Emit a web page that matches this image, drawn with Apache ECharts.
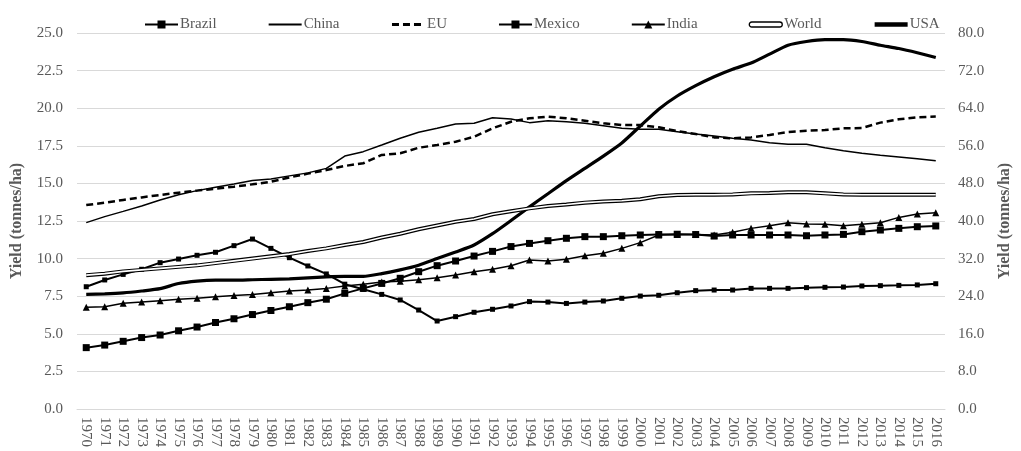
<!DOCTYPE html>
<html>
<head>
<meta charset="utf-8">
<script src="https://cdn.jsdelivr.net/npm/echarts@6/dist/echarts.min.js"></script>
<style>html,body{margin:0;padding:0;background:#fff;}#c{width:1021px;height:451px;}</style>
</head>
<body>
<div id="c"></div>
<script>
const years = [];
for (let y = 1970; y <= 2016; y++) years.push(String(y));

const brazil = [4.08,4.25,4.5,4.75,4.92,5.2,5.45,5.75,6.0,6.28,
  6.55,6.8,7.07,7.3,7.69,8.02,8.35,8.69,9.13,9.53,
  9.84,10.17,10.48,10.8,11.01,11.19,11.35,11.46,11.46,11.52,
  11.57,11.6,11.62,11.6,11.5,11.57,11.57,11.57,11.57,11.52,
  11.57,11.61,11.79,11.9,12.01,12.12,12.17];
const china = [12.39,12.79,13.14,13.5,13.9,14.25,14.52,14.74,14.96,15.2,
  15.29,15.5,15.7,16.0,16.82,17.11,17.55,18.0,18.4,18.66,
  18.95,19.0,19.37,19.28,19.04,19.17,19.1,19.0,18.84,18.66,
  18.6,18.6,18.44,18.28,18.15,18.0,17.89,17.71,17.6,17.6,
  17.37,17.17,17.0,16.87,16.76,16.64,16.51];
const eu = [13.56,13.72,13.9,14.07,14.23,14.38,14.52,14.65,14.78,14.94,
  15.11,15.4,15.65,15.89,16.16,16.34,16.89,17.0,17.37,17.55,
  17.77,18.1,18.66,19.1,19.33,19.44,19.33,19.17,19.0,18.88,
  18.88,18.73,18.48,18.28,18.06,18.0,18.06,18.22,18.42,18.5,
  18.55,18.66,18.68,19.04,19.26,19.39,19.44];
const mexico = [8.13,8.58,8.95,9.29,9.73,9.97,10.22,10.42,10.86,11.3,
  10.68,10.06,9.51,8.98,8.3,7.96,7.62,7.25,6.58,5.85,
  6.14,6.43,6.63,6.85,7.14,7.11,7.02,7.11,7.18,7.36,
  7.51,7.56,7.73,7.87,7.91,7.91,8.02,8.02,8.02,8.07,
  8.09,8.11,8.18,8.2,8.22,8.25,8.33];
const india = [6.76,6.8,7.03,7.11,7.2,7.29,7.36,7.47,7.54,7.62,
  7.73,7.84,7.91,8.02,8.18,8.29,8.45,8.5,8.6,8.73,
  8.91,9.13,9.29,9.53,9.91,9.84,9.95,10.19,10.35,10.68,
  11.06,11.57,11.6,11.6,11.57,11.75,12.01,12.19,12.39,12.3,
  12.28,12.19,12.28,12.39,12.74,12.97,13.05];
const world = [8.9,9.0,9.15,9.25,9.35,9.45,9.55,9.7,9.85,10.0,
  10.15,10.3,10.5,10.68,10.9,11.1,11.4,11.65,11.95,12.2,
  12.45,12.63,12.95,13.15,13.34,13.5,13.6,13.72,13.8,13.85,
  13.95,14.15,14.23,14.25,14.25,14.27,14.34,14.36,14.41,14.41,
  14.34,14.27,14.25,14.25,14.25,14.25,14.25];
// USA plotted on the secondary (right) axis
const usa = [24.4,24.5,24.7,25.1,25.6,26.7,27.2,27.4,27.4,27.5,
  27.6,27.7,27.9,28.1,28.2,28.2,28.8,29.6,30.6,32.0,
  33.4,34.9,37.3,40.1,43.0,45.8,48.6,51.2,53.8,56.6,
  60.2,63.8,66.6,68.8,70.7,72.3,73.6,75.5,77.4,78.2,
  78.6,78.6,78.2,77.4,76.7,75.8,74.8];

const axisName = 'Yield (tonnes/ha)';
const FONT = "'Liberation Serif','Times New Roman',serif";
const GRAY = '#595959';

const chart = echarts.init(document.getElementById('c'), null, {renderer: 'canvas'});
const base = {type: 'line', showAllSymbol: true, animation: false, smooth: false, z: 3};
const noMarker = {color: 'rgba(0,0,0,0)', borderColor: 'rgba(0,0,0,0)', borderWidth: 0, opacity: 0};

chart.setOption({
  backgroundColor: '#fff',
  textStyle: {fontFamily: FONT},
  legend: {
    top: 12, left: 139,
    itemWidth: 33, itemHeight: 10, itemGap: 51,
    textStyle: {fontFamily: FONT, fontSize: 15, color: GRAY, padding: [0,0,0,-3]},
    data: [
      'Brazil',
      {name: 'China', itemStyle: noMarker, lineStyle: {width: 2}},
      {name: 'EU', itemStyle: noMarker, lineStyle: {width: 3, type: [7, 4]}},
      'Mexico', 'India',
      {name: 'World', icon: 'path://M2.5,0 L30.5,0 A2.5,2.5 0 0 1 30.5,5 L2.5,5 A2.5,2.5 0 0 1 2.5,0 Z',
        itemStyle: {color: '#fff', borderColor: '#000', borderWidth: 1.3}},
      {name: 'USA', itemStyle: noMarker, lineStyle: {width: 4.5}}
    ]
  },
  grid: {left: 77, right: 61, top: 33, bottom: 42},
  xAxis: {
    type: 'category', data: years, boundaryGap: true,
    axisLine: {show: true, lineStyle: {color: '#d9d9d9'}},
    axisTick: {show: false},
    axisLabel: {rotate: -90, interval: 0, margin: 8, color: GRAY, fontSize: 15, fontFamily: FONT}
  },
  yAxis: [
    {
      type: 'value', min: 0, max: 25, interval: 2.5,
      name: axisName, nameLocation: 'middle', nameGap: 52,
      nameTextStyle: {fontFamily: FONT, fontSize: 16, fontWeight: 'bold', color: GRAY},
      axisLine: {show: false}, axisTick: {show: false},
      axisLabel: {margin: 14, color: GRAY, fontSize: 15, fontFamily: FONT, formatter: v => v.toFixed(1)},
      splitLine: {lineStyle: {color: '#d9d9d9', width: 1}}
    },
    {
      type: 'value', min: 0, max: 80, interval: 8, position: 'right',
      name: axisName, nameLocation: 'middle', nameGap: 52,
      nameTextStyle: {fontFamily: FONT, fontSize: 16, fontWeight: 'bold', color: GRAY},
      axisLine: {show: false}, axisTick: {show: false},
      axisLabel: {margin: 13, color: GRAY, fontSize: 15, fontFamily: FONT, formatter: v => v.toFixed(1)},
      splitLine: {show: false}
    }
  ],
  series: [
    Object.assign({}, base, {name: 'Brazil', data: brazil, symbol: 'rect', symbolSize: 7,
      lineStyle: {color: '#000', width: 2}, itemStyle: {color: '#000'}}),
    Object.assign({}, base, {name: 'China', data: china, symbol: 'none',
      lineStyle: {color: '#000', width: 1.5}, itemStyle: {color: '#000'}}),
    Object.assign({}, base, {name: 'EU', data: eu, symbol: 'none',
      lineStyle: {color: '#000', width: 2.5, type: [7, 4]}, itemStyle: {color: '#000'}}),
    Object.assign({}, base, {name: 'Mexico', data: mexico, symbol: 'rect', symbolSize: 5,
      lineStyle: {color: '#000', width: 2}, itemStyle: {color: '#000'}}),
    Object.assign({}, base, {name: 'India', data: india, symbol: 'triangle', symbolSize: 7,
      lineStyle: {color: '#000', width: 1.5}, itemStyle: {color: '#000'}}),
    Object.assign({}, base, {name: 'World', data: world, symbol: 'none',
      lineStyle: {color: '#000', width: 4}, itemStyle: {color: '#000'}}),
    Object.assign({}, base, {name: 'World-inner', data: world, symbol: 'none', silent: true, z: 4,
      lineStyle: {color: '#fff', width: 1.6}, itemStyle: {color: '#fff'}}),
    Object.assign({}, base, {name: 'USA', data: usa, yAxisIndex: 1, symbol: 'none', smooth: 0.2,
      lineStyle: {color: '#000', width: 3.2}, itemStyle: {color: '#000'}})
  ]
});
</script>
</body>
</html>
